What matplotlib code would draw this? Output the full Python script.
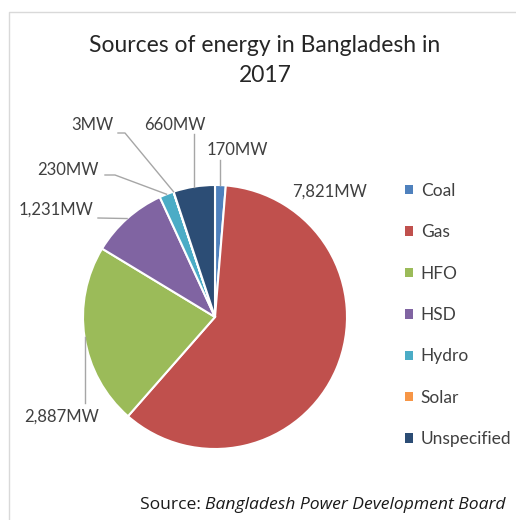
import numpy as np
import matplotlib.pyplot as plt
from matplotlib.patches import Patch

# data
sources = ['Coal', 'Gas', 'HFO', 'HSD', 'Hydro', 'Solar', 'Unspecified']
capacity_mw = [170, 7821, 2887, 1231, 230, 3, 660]
colors = ['#4F81BD', '#C0504D', '#9BBB59', '#8064A2', '#4BACC6', '#F79646', '#2C4D75']
title_lines = ['Sources of energy in Bangladesh in', '2017']

W, H = 516, 520
def py(y):
    return H - y

fig = plt.figure(figsize=(W / 100, H / 100), dpi=100)
ax = fig.add_axes([0, 0, 1, 1])

cx, cy, R = 215, 317, 132
wedges, _ = ax.pie(capacity_mw, colors=colors, startangle=90, counterclock=False,
                   center=(cx, py(cy)), radius=R,
                   wedgeprops=dict(edgecolor='white', linewidth=1.5))
ax.set_xlim(0, W)
ax.set_ylim(0, H)
ax.set_aspect('equal')
ax.axis('off')

# light frame like the excel chart area
ax.plot([9, 9, W], [0, py(12), py(12)], color='#D9D9D9', lw=1)

# label placement (pixel coords, y down) and leader elbows
label_pos = {'Coal': (237, 150), 'Gas': (330, 192), 'HFO': (62, 417),
             'HSD': (56, 210), 'Hydro': (68, 170), 'Solar': (92, 125),
             'Unspecified': (175, 125)}
elbows = {'Coal': 'v160', 'Unspecified': 'v134', 'HFO': 'v403',
          'Solar': [(118, 133), (125, 133)], 'Hydro': [(105, 175), (115, 175)],
          'HSD': [(98, 218)]}

lbl_font = ['Lato', 'DejaVu Sans']
for w, name, v in zip(wedges, sources, capacity_mw):
    mid = np.deg2rad((w.theta1 + w.theta2) / 2)
    axp = cx + R * np.cos(mid)
    ayp = cy - R * np.sin(mid)
    lx, ly = label_pos[name]
    ax.text(lx, py(ly), f'{v:,}MW', ha='center', va='center', fontsize=12,
            family=lbl_font, color='#404040')
    e = elbows.get(name)
    if e is None:
        continue
    if isinstance(e, str):
        pts = [(axp, float(e[1:])), (axp, ayp)]
    else:
        pts = list(e) + [(axp, ayp)]
    xs = [p[0] for p in pts]
    ys = [py(p[1]) for p in pts]
    ax.plot(xs, ys, color='#A6A6A6', lw=1)

for line, ty in zip(title_lines, [45, 75]):
    ax.text(265, py(ty), line, ha='center', va='center', fontsize=16.5,
            family=lbl_font, color='#262626')

handles = [Patch(facecolor=c, edgecolor='none') for c in colors]
leg = fig.legend(handles, sources, loc='upper left',
                 bbox_to_anchor=(405 / W, 1 - 183 / H), frameon=False,
                 prop={'family': lbl_font, 'size': 12.5}, handlelength=0.45,
                 handleheight=0.45, handletextpad=0.45, labelspacing=1.46,
                 borderaxespad=0, borderpad=0)
for t in leg.get_texts():
    t.set_color('#404040')

src_font = ['Open Sans', 'DejaVu Sans']
t1 = ax.text(140, py(505), 'Source: ', ha='left', va='center', fontsize=12.6,
             family=src_font, color='#1A1A1A')
fig.canvas.draw()
bb = t1.get_window_extent()
ax.text(bb.x1, py(505), 'Bangladesh Power Development Board', ha='left',
        va='center', fontsize=12.6, family=src_font, style='italic',
        color='#1A1A1A')

fig.savefig('out.png', dpi=100)
